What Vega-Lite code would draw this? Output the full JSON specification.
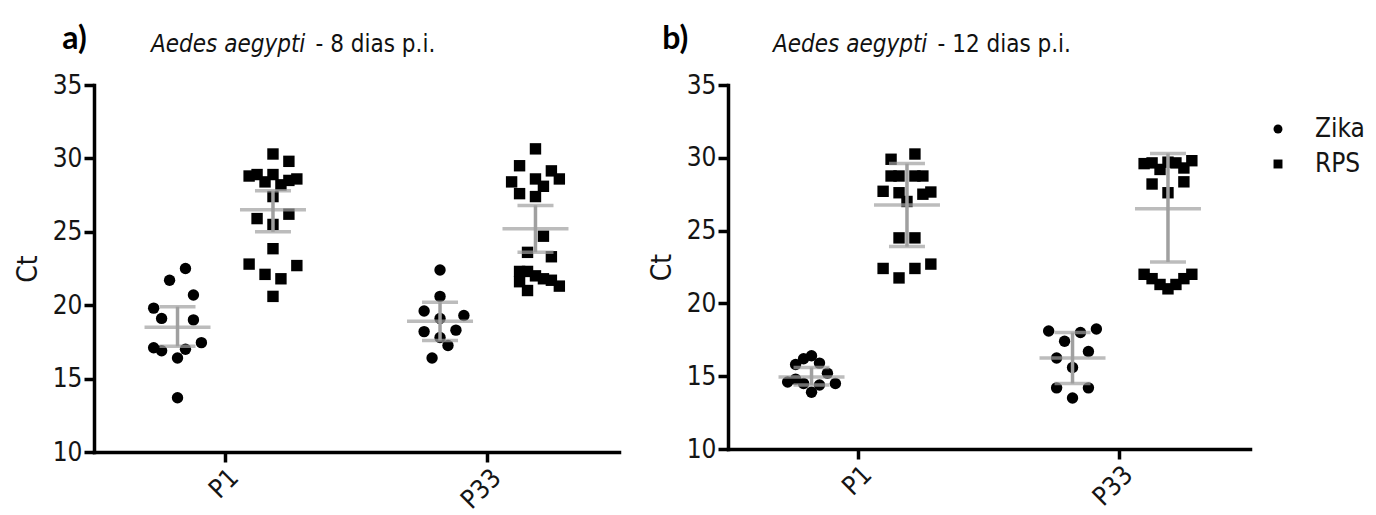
{
  "$schema": "https://vega.github.io/schema/vega-lite/v6.json",
  "background": "white",
  "padding": {"left": 14, "top": 23, "right": 0, "bottom": 0},
  "config": {
    "view": {"stroke": null},
    "font": "DejaVu Sans Condensed, sans-serif",
    "axis": {
      "domainColor": "#000", "domainWidth": 3.5, "domainCap": "square",
      "tickColor": "#000", "tickWidth": 3.5, "tickSize": 10,
      "labelColor": "#151515", "titleColor": "#151515",
      "labelFont": "DejaVu Sans Condensed, sans-serif",
      "titleFont": "DejaVu Sans Condensed, sans-serif",
      "grid": false, "labelFontWeight": "normal", "titleFontWeight": "normal"
    },
    "legend": {
      "labelFont": "DejaVu Sans Condensed, sans-serif",
      "labelFontSize": 26, "labelColor": "#151515", "symbolSize": 80,
      "labelOffset": 24, "rowPadding": 9
    }
  },
  "datasets": {
    "pts": [
      {"panel": "a", "group": "P1", "series": "Zika", "slot": "Z1", "ct": 22.5},
      {"panel": "a", "group": "P1", "series": "Zika", "slot": "Z-1", "ct": 21.7},
      {"panel": "a", "group": "P1", "series": "Zika", "slot": "Z2", "ct": 20.7},
      {"panel": "a", "group": "P1", "series": "Zika", "slot": "Z-3", "ct": 19.8},
      {"panel": "a", "group": "P1", "series": "Zika", "slot": "Z-2", "ct": 19.1},
      {"panel": "a", "group": "P1", "series": "Zika", "slot": "Z2", "ct": 19.0},
      {"panel": "a", "group": "P1", "series": "Zika", "slot": "Z-3", "ct": 17.1},
      {"panel": "a", "group": "P1", "series": "Zika", "slot": "Z-2", "ct": 16.9},
      {"panel": "a", "group": "P1", "series": "Zika", "slot": "Z0", "ct": 16.4},
      {"panel": "a", "group": "P1", "series": "Zika", "slot": "Z1", "ct": 17.0},
      {"panel": "a", "group": "P1", "series": "Zika", "slot": "Z3", "ct": 17.45},
      {"panel": "a", "group": "P1", "series": "Zika", "slot": "Z0", "ct": 13.7},
      {"panel": "a", "group": "P1", "series": "RPS", "slot": "R0", "ct": 30.3},
      {"panel": "a", "group": "P1", "series": "RPS", "slot": "R2", "ct": 29.8},
      {"panel": "a", "group": "P1", "series": "RPS", "slot": "R-3", "ct": 28.8},
      {"panel": "a", "group": "P1", "series": "RPS", "slot": "R-2", "ct": 28.9},
      {"panel": "a", "group": "P1", "series": "RPS", "slot": "R0", "ct": 28.9},
      {"panel": "a", "group": "P1", "series": "RPS", "slot": "R-1", "ct": 28.4},
      {"panel": "a", "group": "P1", "series": "RPS", "slot": "R2", "ct": 28.5},
      {"panel": "a", "group": "P1", "series": "RPS", "slot": "R3", "ct": 28.6},
      {"panel": "a", "group": "P1", "series": "RPS", "slot": "R1", "ct": 28.2},
      {"panel": "a", "group": "P1", "series": "RPS", "slot": "R0", "ct": 27.4},
      {"panel": "a", "group": "P1", "series": "RPS", "slot": "R2", "ct": 26.2},
      {"panel": "a", "group": "P1", "series": "RPS", "slot": "R-2", "ct": 25.9},
      {"panel": "a", "group": "P1", "series": "RPS", "slot": "R0", "ct": 25.5},
      {"panel": "a", "group": "P1", "series": "RPS", "slot": "R0", "ct": 23.85},
      {"panel": "a", "group": "P1", "series": "RPS", "slot": "R-3", "ct": 22.8},
      {"panel": "a", "group": "P1", "series": "RPS", "slot": "R3", "ct": 22.7},
      {"panel": "a", "group": "P1", "series": "RPS", "slot": "R-1", "ct": 22.1},
      {"panel": "a", "group": "P1", "series": "RPS", "slot": "R1", "ct": 21.8},
      {"panel": "a", "group": "P1", "series": "RPS", "slot": "R0", "ct": 20.6},
      {"panel": "a", "group": "P33", "series": "Zika", "slot": "Z0", "ct": 22.4},
      {"panel": "a", "group": "P33", "series": "Zika", "slot": "Z0", "ct": 20.6},
      {"panel": "a", "group": "P33", "series": "Zika", "slot": "Z-2", "ct": 19.6},
      {"panel": "a", "group": "P33", "series": "Zika", "slot": "Z3", "ct": 19.3},
      {"panel": "a", "group": "P33", "series": "Zika", "slot": "Z0", "ct": 19.1},
      {"panel": "a", "group": "P33", "series": "Zika", "slot": "Z-2", "ct": 18.2},
      {"panel": "a", "group": "P33", "series": "Zika", "slot": "Z2", "ct": 18.3},
      {"panel": "a", "group": "P33", "series": "Zika", "slot": "Z0", "ct": 17.8},
      {"panel": "a", "group": "P33", "series": "Zika", "slot": "Z1", "ct": 17.25},
      {"panel": "a", "group": "P33", "series": "Zika", "slot": "Z-1", "ct": 16.4},
      {"panel": "a", "group": "P33", "series": "RPS", "slot": "R0", "ct": 30.65},
      {"panel": "a", "group": "P33", "series": "RPS", "slot": "R-2", "ct": 29.5},
      {"panel": "a", "group": "P33", "series": "RPS", "slot": "R2", "ct": 29.15},
      {"panel": "a", "group": "P33", "series": "RPS", "slot": "R-3", "ct": 28.4},
      {"panel": "a", "group": "P33", "series": "RPS", "slot": "R0", "ct": 28.6},
      {"panel": "a", "group": "P33", "series": "RPS", "slot": "R3", "ct": 28.6},
      {"panel": "a", "group": "P33", "series": "RPS", "slot": "R1", "ct": 28.1},
      {"panel": "a", "group": "P33", "series": "RPS", "slot": "R-2", "ct": 27.6},
      {"panel": "a", "group": "P33", "series": "RPS", "slot": "R0", "ct": 27.4},
      {"panel": "a", "group": "P33", "series": "RPS", "slot": "R1", "ct": 24.7},
      {"panel": "a", "group": "P33", "series": "RPS", "slot": "R-1", "ct": 23.6},
      {"panel": "a", "group": "P33", "series": "RPS", "slot": "R2", "ct": 23.3},
      {"panel": "a", "group": "P33", "series": "RPS", "slot": "R-2", "ct": 22.3},
      {"panel": "a", "group": "P33", "series": "RPS", "slot": "R-1", "ct": 22.3},
      {"panel": "a", "group": "P33", "series": "RPS", "slot": "R1", "ct": 21.8},
      {"panel": "a", "group": "P33", "series": "RPS", "slot": "R2", "ct": 21.7},
      {"panel": "a", "group": "P33", "series": "RPS", "slot": "R-2", "ct": 21.6},
      {"panel": "a", "group": "P33", "series": "RPS", "slot": "R-1", "ct": 21.0},
      {"panel": "a", "group": "P33", "series": "RPS", "slot": "R0", "ct": 22.0},
      {"panel": "a", "group": "P33", "series": "RPS", "slot": "R3", "ct": 21.3},
      {"panel": "b", "group": "P1", "series": "Zika", "slot": "Z0", "ct": 16.4},
      {"panel": "b", "group": "P1", "series": "Zika", "slot": "Z-1", "ct": 16.2},
      {"panel": "b", "group": "P1", "series": "Zika", "slot": "Z-2", "ct": 15.8},
      {"panel": "b", "group": "P1", "series": "Zika", "slot": "Z1", "ct": 15.9},
      {"panel": "b", "group": "P1", "series": "Zika", "slot": "Z2", "ct": 15.2},
      {"panel": "b", "group": "P1", "series": "Zika", "slot": "Z-2", "ct": 14.8},
      {"panel": "b", "group": "P1", "series": "Zika", "slot": "Z-3", "ct": 14.6},
      {"panel": "b", "group": "P1", "series": "Zika", "slot": "Z-1", "ct": 14.5},
      {"panel": "b", "group": "P1", "series": "Zika", "slot": "Z1", "ct": 14.4},
      {"panel": "b", "group": "P1", "series": "Zika", "slot": "Z3", "ct": 14.5},
      {"panel": "b", "group": "P1", "series": "Zika", "slot": "Z0", "ct": 13.9},
      {"panel": "b", "group": "P1", "series": "RPS", "slot": "R1", "ct": 30.26},
      {"panel": "b", "group": "P1", "series": "RPS", "slot": "R-2", "ct": 29.9},
      {"panel": "b", "group": "P1", "series": "RPS", "slot": "R-2", "ct": 28.75},
      {"panel": "b", "group": "P1", "series": "RPS", "slot": "R-1", "ct": 28.75},
      {"panel": "b", "group": "P1", "series": "RPS", "slot": "R1", "ct": 28.75},
      {"panel": "b", "group": "P1", "series": "RPS", "slot": "R2", "ct": 28.75},
      {"panel": "b", "group": "P1", "series": "RPS", "slot": "R-3", "ct": 27.7},
      {"panel": "b", "group": "P1", "series": "RPS", "slot": "R-1", "ct": 27.6},
      {"panel": "b", "group": "P1", "series": "RPS", "slot": "R2", "ct": 27.5},
      {"panel": "b", "group": "P1", "series": "RPS", "slot": "R3", "ct": 27.65},
      {"panel": "b", "group": "P1", "series": "RPS", "slot": "R0", "ct": 27.0},
      {"panel": "b", "group": "P1", "series": "RPS", "slot": "R-1", "ct": 24.5},
      {"panel": "b", "group": "P1", "series": "RPS", "slot": "R1", "ct": 24.5},
      {"panel": "b", "group": "P1", "series": "RPS", "slot": "R-3", "ct": 22.4},
      {"panel": "b", "group": "P1", "series": "RPS", "slot": "R-1", "ct": 21.75},
      {"panel": "b", "group": "P1", "series": "RPS", "slot": "R1", "ct": 22.4},
      {"panel": "b", "group": "P1", "series": "RPS", "slot": "R3", "ct": 22.7},
      {"panel": "b", "group": "P33", "series": "Zika", "slot": "Z-3", "ct": 18.1},
      {"panel": "b", "group": "P33", "series": "Zika", "slot": "Z-1", "ct": 17.4},
      {"panel": "b", "group": "P33", "series": "Zika", "slot": "Z1", "ct": 18.0},
      {"panel": "b", "group": "P33", "series": "Zika", "slot": "Z3", "ct": 18.24},
      {"panel": "b", "group": "P33", "series": "Zika", "slot": "Z2", "ct": 16.7},
      {"panel": "b", "group": "P33", "series": "Zika", "slot": "Z-2", "ct": 16.25},
      {"panel": "b", "group": "P33", "series": "Zika", "slot": "Z0", "ct": 15.6},
      {"panel": "b", "group": "P33", "series": "Zika", "slot": "Z-2", "ct": 14.2},
      {"panel": "b", "group": "P33", "series": "Zika", "slot": "Z2", "ct": 14.2},
      {"panel": "b", "group": "P33", "series": "Zika", "slot": "Z0", "ct": 13.5},
      {"panel": "b", "group": "P33", "series": "RPS", "slot": "R-3", "ct": 29.6},
      {"panel": "b", "group": "P33", "series": "RPS", "slot": "R-2", "ct": 29.65},
      {"panel": "b", "group": "P33", "series": "RPS", "slot": "R-1", "ct": 29.2},
      {"panel": "b", "group": "P33", "series": "RPS", "slot": "R0", "ct": 29.7},
      {"panel": "b", "group": "P33", "series": "RPS", "slot": "R1", "ct": 29.65},
      {"panel": "b", "group": "P33", "series": "RPS", "slot": "R2", "ct": 29.3},
      {"panel": "b", "group": "P33", "series": "RPS", "slot": "R3", "ct": 29.8},
      {"panel": "b", "group": "P33", "series": "RPS", "slot": "R-2", "ct": 28.2},
      {"panel": "b", "group": "P33", "series": "RPS", "slot": "R2", "ct": 28.35},
      {"panel": "b", "group": "P33", "series": "RPS", "slot": "R0", "ct": 27.6},
      {"panel": "b", "group": "P33", "series": "RPS", "slot": "R-3", "ct": 22.0},
      {"panel": "b", "group": "P33", "series": "RPS", "slot": "R-2", "ct": 21.7},
      {"panel": "b", "group": "P33", "series": "RPS", "slot": "R-1", "ct": 21.3},
      {"panel": "b", "group": "P33", "series": "RPS", "slot": "R0", "ct": 21.0},
      {"panel": "b", "group": "P33", "series": "RPS", "slot": "R1", "ct": 21.3},
      {"panel": "b", "group": "P33", "series": "RPS", "slot": "R2", "ct": 21.7},
      {"panel": "b", "group": "P33", "series": "RPS", "slot": "R3", "ct": 22.0}
    ],
    "sum": [
      {"panel": "a", "group": "P1", "series": "Zika", "slot": "Z0", "mean": 18.5, "lo": 17.2, "hi": 19.9},
      {"panel": "a", "group": "P1", "series": "RPS", "slot": "R0", "mean": 26.5, "lo": 25.0, "hi": 27.8},
      {"panel": "a", "group": "P33", "series": "Zika", "slot": "Z0", "mean": 18.9, "lo": 17.6, "hi": 20.2},
      {"panel": "a", "group": "P33", "series": "RPS", "slot": "R0", "mean": 25.2, "lo": 23.6, "hi": 26.8},
      {"panel": "b", "group": "P1", "series": "Zika", "slot": "Z0", "mean": 14.95, "lo": 14.4, "hi": 15.6},
      {"panel": "b", "group": "P1", "series": "RPS", "slot": "R0", "mean": 26.75, "lo": 23.9, "hi": 29.6},
      {"panel": "b", "group": "P33", "series": "Zika", "slot": "Z0", "mean": 16.25, "lo": 14.5, "hi": 18.0},
      {"panel": "b", "group": "P33", "series": "RPS", "slot": "R0", "mean": 26.5, "lo": 22.85, "hi": 30.3}
    ]
  },
  "title": {
    "text": "a)\u00a0\u00a0\u00a0\u00a0\u00a0\u00a0\u00a0\u00a0\u00a0\u00a0\u00a0\u00a0\u00a0\u00a0\u00a0\u00a0\u00a0\u00a0\u00a0\u00a0\u00a0\u00a0\u00a0\u00a0\u00a0\u00a0\u00a0\u00a0\u00a0\u00a0\u00a0\u00a0\u00a0\u00a0\u00a0\u00a0\u00a0\u00a0\u00a0\u00a0\u00a0\u00a0\u00a0\u00a0\u00a0\u00a0\u00a0\u00a0\u00a0\u00a0\u00a0\u00a0\u00a0\u00a0\u00a0\u00a0\u00a0\u00a0\u00a0\u00a0\u00a0\u00a0\u00a0\u00a0\u00a0\u00a0\u00a0\u00a0\u00a0\u00a0\u00a0\u00a0\u00a0\u00a0b)",
    "anchor": "start", "frame": "bounds", "font": "Lato", "fontWeight": "bold",
    "fontSize": 32, "color": "#000", "dx": 48, "dy": 23, "offset": 0
  },
  "spacing": 29,
  "resolve": {"scale": {"shape": "shared"}},
  "hconcat": [
    {
      "width": 525, "height": 367,
      "title": {
        "text": "Aedes aegypti",
        "subtitle": "\u200b\u00a0\u00a0\u00a0\u00a0\u00a0\u00a0\u00a0\u00a0\u00a0\u00a0\u00a0\u00a0\u00a0\u00a0\u00a0\u00a0\u00a0\u00a0\u00a0\u00a0\u00a0\u00a0\u00a0\u00a0- 8 dias p.i.",
        "anchor": "start", "frame": "group", "dx": 57,
        "font": "DejaVu Sans Condensed, sans-serif",
        "fontSize": 24, "fontStyle": "italic", "fontWeight": "normal", "color": "#111",
        "subtitleFont": "DejaVu Sans Condensed, sans-serif",
        "subtitleFontSize": 24, "subtitleColor": "#111", "subtitlePadding": -24, "offset": 15
      },
      "layer": [
        {
          "data": {"name": "pts"},
          "transform": [{"filter": "datum.panel == 'a'"}],
          "mark": {"type": "point", "filled": true, "opacity": 1, "size": 130, "color": "#000"},
          "encoding": {
            "x": {"field": "group", "type": "nominal", "title": null,
                  "scale": {"domain": ["P1", "P33"], "paddingInner": 0, "paddingOuter": 0},
                  "axis": {"labelAngle": -45, "labelFontSize": 26, "labelPadding": 2}},
            "xOffset": {"field": "slot", "type": "nominal",
                  "scale": {"domain": ["l1","l2","l3","l4","l5","l6","l7","Z-3","Z-2","Z-1","Z0","Z1","Z2","Z3","g1","g2","g3","g4","g5","R-3","R-2","R-1","R0","R1","R2","R3","r1","r2","r3","r4","r5","r6","r7"], "paddingInner": 0, "paddingOuter": 0}},
            "y": {"field": "ct", "type": "quantitative", "title": "Ct",
                  "scale": {"domain": [10, 35], "nice": false, "zero": false},
                  "axis": {"values": [10, 15, 20, 25, 30, 35], "labelFontSize": 26, "titleFontSize": 28, "labelPadding": 2, "titlePadding": 10}},
            "shape": {"field": "series", "type": "nominal", "scale": {"domain": ["Zika", "RPS"], "range": ["circle", "square"]},
                      "legend": {"title": null, "orient": "none", "legendX": 1171, "legendY": 31, "labelOffset": 24}}
          }
        },
        {
          "data": {"name": "sum"},
          "transform": [{"filter": "datum.panel == 'a'"}],
          "mark": {"type": "rule", "color": "#a0a0a0", "strokeWidth": 3.5},
          "encoding": {
            "x": {"field": "group", "type": "nominal", "title": null},
            "xOffset": {"field": "slot", "type": "nominal"},
            "y": {"field": "lo", "type": "quantitative", "title": "Ct"},
            "y2": {"field": "hi"}
          }
        },
        {
          "data": {"name": "sum"},
          "transform": [{"filter": "datum.panel == 'a'"}],
          "mark": {"type": "tick", "color": "#a0a0a0", "size": 66, "thickness": 3.5, "orient": "horizontal"},
          "encoding": {
            "x": {"field": "group", "type": "nominal", "title": null},
            "xOffset": {"field": "slot", "type": "nominal"},
            "y": {"field": "mean", "type": "quantitative", "title": "Ct"}
          }
        },
        {
          "data": {"name": "sum"},
          "transform": [{"filter": "datum.panel == 'a'"}],
          "mark": {"type": "tick", "color": "#a0a0a0", "size": 36, "thickness": 3.5, "orient": "horizontal"},
          "encoding": {
            "x": {"field": "group", "type": "nominal", "title": null},
            "xOffset": {"field": "slot", "type": "nominal"},
            "y": {"field": "lo", "type": "quantitative", "title": "Ct"}
          }
        },
        {
          "data": {"name": "sum"},
          "transform": [{"filter": "datum.panel == 'a'"}],
          "mark": {"type": "tick", "color": "#a0a0a0", "size": 36, "thickness": 3.5, "orient": "horizontal"},
          "encoding": {
            "x": {"field": "group", "type": "nominal", "title": null},
            "xOffset": {"field": "slot", "type": "nominal"},
            "y": {"field": "hi", "type": "quantitative", "title": "Ct"}
          }
        }
      ]
    },
    {
      "width": 522, "height": 364,
      "title": {
        "text": "Aedes aegypti",
        "subtitle": "\u200b\u00a0\u00a0\u00a0\u00a0\u00a0\u00a0\u00a0\u00a0\u00a0\u00a0\u00a0\u00a0\u00a0\u00a0\u00a0\u00a0\u00a0\u00a0\u00a0\u00a0\u00a0\u00a0\u00a0\u00a0- 12 dias p.i.",
        "anchor": "start", "frame": "group", "dx": 45,
        "font": "DejaVu Sans Condensed, sans-serif",
        "fontSize": 24, "fontStyle": "italic", "fontWeight": "normal", "color": "#111",
        "subtitleFont": "DejaVu Sans Condensed, sans-serif",
        "subtitleFontSize": 24, "subtitleColor": "#111", "subtitlePadding": -24, "offset": 15
      },
      "layer": [
        {
          "data": {"name": "pts"},
          "transform": [{"filter": "datum.panel == 'b'"}],
          "mark": {"type": "point", "filled": true, "opacity": 1, "size": 130, "color": "#000"},
          "encoding": {
            "x": {"field": "group", "type": "nominal", "title": null,
                  "scale": {"domain": ["P1", "P33"], "paddingInner": 0, "paddingOuter": 0},
                  "axis": {"labelAngle": -45, "labelFontSize": 26, "labelPadding": 2}},
            "xOffset": {"field": "slot", "type": "nominal",
                  "scale": {"domain": ["l1","l2","l3","l4","l5","l6","l7","Z-3","Z-2","Z-1","Z0","Z1","Z2","Z3","g1","g2","g3","g4","g5","R-3","R-2","R-1","R0","R1","R2","R3","r1","r2","r3","r4","r5","r6","r7"], "paddingInner": 0, "paddingOuter": 0}},
            "y": {"field": "ct", "type": "quantitative", "title": "Ct",
                  "scale": {"domain": [10, 35], "nice": false, "zero": false},
                  "axis": {"values": [10, 15, 20, 25, 30, 35], "labelFontSize": 26, "titleFontSize": 28, "labelPadding": 2, "titlePadding": 10}},
            "shape": {"field": "series", "type": "nominal", "scale": {"domain": ["Zika", "RPS"], "range": ["circle", "square"]},
                      "legend": {"title": null, "orient": "none", "legendX": 1171, "legendY": 31, "labelOffset": 24}}
          }
        },
        {
          "data": {"name": "sum"},
          "transform": [{"filter": "datum.panel == 'b'"}],
          "mark": {"type": "rule", "color": "#a0a0a0", "strokeWidth": 3.5},
          "encoding": {
            "x": {"field": "group", "type": "nominal", "title": null},
            "xOffset": {"field": "slot", "type": "nominal"},
            "y": {"field": "lo", "type": "quantitative", "title": "Ct"},
            "y2": {"field": "hi"}
          }
        },
        {
          "data": {"name": "sum"},
          "transform": [{"filter": "datum.panel == 'b'"}],
          "mark": {"type": "tick", "color": "#a0a0a0", "size": 66, "thickness": 3.5, "orient": "horizontal"},
          "encoding": {
            "x": {"field": "group", "type": "nominal", "title": null},
            "xOffset": {"field": "slot", "type": "nominal"},
            "y": {"field": "mean", "type": "quantitative", "title": "Ct"}
          }
        },
        {
          "data": {"name": "sum"},
          "transform": [{"filter": "datum.panel == 'b'"}],
          "mark": {"type": "tick", "color": "#a0a0a0", "size": 36, "thickness": 3.5, "orient": "horizontal"},
          "encoding": {
            "x": {"field": "group", "type": "nominal", "title": null},
            "xOffset": {"field": "slot", "type": "nominal"},
            "y": {"field": "lo", "type": "quantitative", "title": "Ct"}
          }
        },
        {
          "data": {"name": "sum"},
          "transform": [{"filter": "datum.panel == 'b'"}],
          "mark": {"type": "tick", "color": "#a0a0a0", "size": 36, "thickness": 3.5, "orient": "horizontal"},
          "encoding": {
            "x": {"field": "group", "type": "nominal", "title": null},
            "xOffset": {"field": "slot", "type": "nominal"},
            "y": {"field": "hi", "type": "quantitative", "title": "Ct"}
          }
        }
      ]
    }
  ]
}
